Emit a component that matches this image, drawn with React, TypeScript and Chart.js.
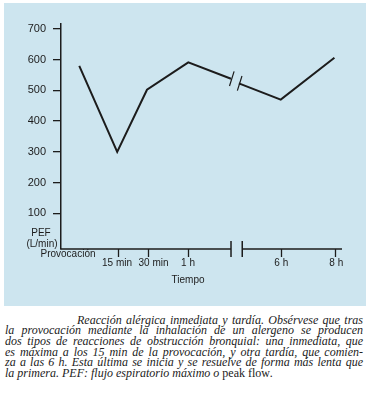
import React, { useEffect, useRef } from 'react';
import { Chart, registerables } from 'chart.js';

Chart.register(...registerables);

// Broken time axis expressed in axis units (0..100 across the drawn axis)
const timeTickLabels = ['15 min', '30 min', '1 h', '6 h', '8 h'];
const timeTickPos = [20.3, 30.8, 45.2, 78.4, 97.6];
const timeLabelShift = [-1, 6, 0, 0, 1];
const axisBreakPos = [60.5, 64.5];

// Immediate reaction segment (before the break)
const earlyPos = [6.5, 20.0, 30.6, 45.3, 60.5];
const earlyPEF = [580, 300, 502, 591, 538];
// Late reaction segment (after the break)
const latePos = [63.3, 78.2, 97.3];
const latePEF = [523, 470, 606];

const pefTicks = [100, 200, 300, 400, 500, 600, 700];

const INK = '#1c1c1c';
const SANS = '"Liberation Sans", Arial, sans-serif';

const brokenAxisPlugin = {
  id: 'brokenAxis',
  afterDraw(chart: any) {
    const ctx = chart.ctx as CanvasRenderingContext2D;
    const xs = chart.scales.x;
    const ys = chart.scales.y;
    const area = chart.chartArea;
    const y0 = area.bottom;
    const bA = xs.getPixelForValue(axisBreakPos[0]);
    const bB = xs.getPixelForValue(axisBreakPos[1]);
    ctx.save();
    ctx.strokeStyle = INK;
    ctx.fillStyle = INK;
    // axis line with gap
    ctx.lineWidth = 1.5;
    ctx.beginPath();
    ctx.moveTo(area.left - 0.75, y0);
    ctx.lineTo(bA, y0);
    ctx.moveTo(bB, y0);
    ctx.lineTo(area.right, y0);
    ctx.stroke();
    // break bars
    ctx.lineWidth = 1.5;
    ctx.beginPath();
    ctx.moveTo(bA, y0 - 8);
    ctx.lineTo(bA, y0 + 8);
    ctx.moveTo(bB, y0 - 8);
    ctx.lineTo(bB, y0 + 8);
    ctx.stroke();
    // ticks
    ctx.lineWidth = 1.3;
    ctx.beginPath();
    timeTickPos.forEach((p) => {
      const px = Math.round(xs.getPixelForValue(p)) + 0.5;
      ctx.moveTo(px, y0);
      ctx.lineTo(px, y0 + 8);
    });
    ctx.stroke();
    // tick labels
    ctx.font = `10px ${SANS}`;
    ctx.textAlign = 'center';
    ctx.textBaseline = 'middle';
    timeTickLabels.forEach((t, i) => {
      ctx.fillText(t, xs.getPixelForValue(timeTickPos[i]) + timeLabelShift[i], y0 + 14.5);
    });
    ctx.fillText('Tiempo', xs.getPixelForValue(timeTickPos[2]), y0 + 31);
    ctx.fillText('Provocación', area.left + 7, y0 + 5.5);
    ctx.fillText('PEF', area.left - 20, y0 - 16);
    ctx.fillText('(L/min)', area.left - 19, y0 - 5);
    // slanted break marks on the data line
    const marks = [
      [earlyPos[earlyPos.length - 1], earlyPEF[earlyPEF.length - 1]],
      [latePos[0], latePEF[0]],
    ];
    ctx.lineWidth = 1.2;
    ctx.beginPath();
    marks.forEach(([p, v]) => {
      const cx = xs.getPixelForValue(p) + 0.8;
      const cy = ys.getPixelForValue(v);
      ctx.moveTo(cx + 2.3, cy - 7.3);
      ctx.lineTo(cx - 2.3, cy + 7.3);
    });
    ctx.stroke();
    ctx.restore();
  },
};

function PefChart() {
  const ref = useRef<HTMLCanvasElement | null>(null);
  useEffect(() => {
    if (!ref.current) return;
    const chart = new Chart(ref.current, {
      type: 'line',
      data: {
        datasets: [
          {
            data: earlyPos.map((p, i) => ({ x: p, y: earlyPEF[i] })),
            borderColor: INK,
            borderWidth: 2,
            pointRadius: 0,
            tension: 0,
            fill: false,
          },
          {
            data: latePos.map((p, i) => ({ x: p, y: latePEF[i] })),
            borderColor: INK,
            borderWidth: 2,
            pointRadius: 0,
            tension: 0,
            fill: false,
          },
        ],
      },
      options: {
        animation: false,
        responsive: false,
        maintainAspectRatio: false,
        events: [],
        layout: { padding: { left: 0, top: 21, right: 24, bottom: 57 } },
        plugins: { legend: { display: false }, tooltip: { enabled: false } },
        scales: {
          x: { type: 'linear', min: 0, max: 100, display: false },
          y: {
            type: 'linear',
            min: -16,
            max: 716,
            afterBuildTicks: (scale: any) => {
              scale.ticks = pefTicks.map((v) => ({ value: v }));
            },
            afterFit: (scale: any) => {
              scale.width = 57;
            },
            ticks: {
              color: INK,
              padding: 7,
              font: { family: SANS, size: 11 },
            },
            grid: {
              drawOnChartArea: false,
              drawTicks: true,
              tickLength: 8,
              color: INK,
              lineWidth: 1.3,
            },
            border: { display: true, color: INK, width: 1.5 },
          },
        },
      },
      plugins: [brokenAxisPlugin],
    });
    return () => chart.destroy();
  }, []);
  return <canvas ref={ref} width={362} height={303} style={{ display: 'block', width: 362, height: 303 }} />;
}

const captionLines = [
  'Reacción alérgica inmediata y tardía. Obsérvese que tras',
  'la provocación mediante la inhalación de un alergeno se producen',
  'dos tipos de reacciones de obstrucción bronquial: una inmediata, que',
  'es máxima a los 15 min de la provocación, y otra tardía, que comien-',
  'za a las 6 h. Esta última se inicia y se resuelve de forma más lenta que',
];

export default function App() {
  return (
    <div style={{ position: 'absolute', left: 0, top: 0, width: 368, height: 397, background: '#fff' }}>
      <div style={{ position: 'absolute', left: 4, top: 3, width: 362, height: 303, background: '#cde5ef' }}>
        <PefChart />
      </div>
      <div
        style={{
          position: 'absolute',
          left: 5,
          top: 314.5,
          width: 358,
          fontFamily: '"Liberation Serif", "Times New Roman", serif',
          fontStyle: 'italic',
          fontSize: 12,
          lineHeight: '10.7px',
          color: '#222',
        }}
      >
        {captionLines.map((l, i) => (
          <div key={i} style={{ textAlign: 'justify', textAlignLast: 'justify', paddingLeft: i === 0 ? 72 : 0, whiteSpace: 'nowrap', overflow: 'visible' }}>
            {l}
          </div>
        ))}
        <div style={{ textAlign: 'left' }}>
          la primera. PEF: flujo espiratorio máximo o <span style={{ fontStyle: 'normal' }}>peak flow</span>.
        </div>
      </div>
    </div>
  );
}
